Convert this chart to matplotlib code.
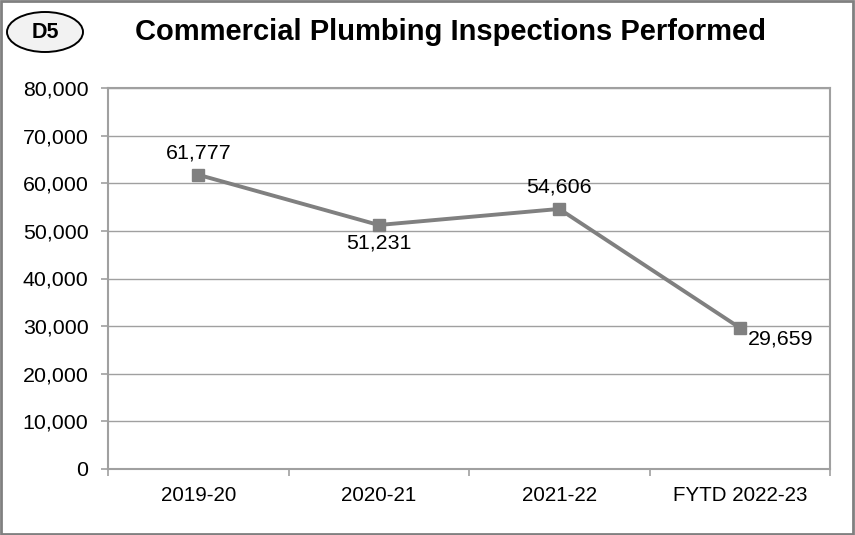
import matplotlib.pyplot as plt
from matplotlib.patches import Ellipse, Rectangle
from matplotlib.ticker import FuncFormatter, FixedLocator

plt.rcParams["font.family"] = ["Liberation Sans", "DejaVu Sans"]

categories = ["2019-20", "2020-21", "2021-22", "FYTD 2022-23"]
inspections = [61777, 51231, 54606, 29659]
y_ticks = [0, 10000, 20000, 30000, 40000, 50000, 60000, 70000, 80000]

# label placement per point: (dx px, dy px, ha, va)
label_offsets = [(0, 12, "center", "bottom"),
                 (0, -8, "center", "top"),
                 (0, 12, "center", "bottom"),
                 (8, -2, "left", "top")]

grid_color = "#a0a0a0"
line_color = "#808080"

fig = plt.figure(figsize=(8.55, 5.35), dpi=100)
ax = fig.add_axes([108 / 855, 1 - 469 / 535, 722 / 855, 381 / 535])

x = list(range(len(categories)))
ax.plot(x, inspections, color=line_color, linewidth=2.8, marker="s",
        markersize=8, markerfacecolor=line_color, markeredgecolor=line_color,
        zorder=3)

for xi, val, (dx, dy, ha, va) in zip(x, inspections, label_offsets):
    ax.annotate(f"{val:,}", (xi, val), xytext=(dx * 0.72, dy * 0.72),
                textcoords="offset points", ha=ha, va=va, fontsize=15.4,
                color="black")

ax.set_xlim(-0.5, len(categories) - 0.5)
ax.set_ylim(0, 80000)
ax.set_yticks(y_ticks)
ax.yaxis.set_major_formatter(FuncFormatter(lambda v, p: f"{int(v):,}"))
ax.yaxis.grid(True, color=grid_color, linewidth=1.0)
ax.set_axisbelow(True)

# category boundaries get tick marks, labels sit at the centres
ax.xaxis.set_major_locator(FixedLocator([i - 0.5 for i in range(len(categories) + 1)]))
ax.xaxis.set_major_formatter(FuncFormatter(lambda v, p: ""))
ax.xaxis.set_minor_locator(FixedLocator(x))
ax.set_xticklabels(categories, minor=True)
ax.tick_params(axis="x", which="minor", length=0, pad=12, labelsize=14.8)
ax.tick_params(axis="x", which="major", length=5, color=grid_color, width=1.2)
ax.tick_params(axis="y", length=5, color=grid_color, width=1.2, pad=9,
               labelsize=15.4)

for spine in ax.spines.values():
    spine.set_color(grid_color)
    spine.set_linewidth(1.5)

# title and badge
fig.text(450 / 855, 1 - 32 / 535, "Commercial Plumbing Inspections Performed",
         ha="center", va="center", fontsize=21, fontweight="bold")
badge = Ellipse((45 / 855, 1 - 32 / 535), 76 / 855, 40 / 535,
                transform=fig.transFigure, facecolor="#f2f2f2",
                edgecolor="black", linewidth=1.4)
fig.add_artist(badge)
fig.text(45 / 855, 1 - 32 / 535, "D5", ha="center", va="center",
         fontsize=15.5, fontweight="bold")

border = Rectangle((0.001, 0.002), 0.997, 0.996, transform=fig.transFigure,
                   fill=False, edgecolor="#808080", linewidth=2)
fig.add_artist(border)

fig.savefig("out.png", dpi=100)
